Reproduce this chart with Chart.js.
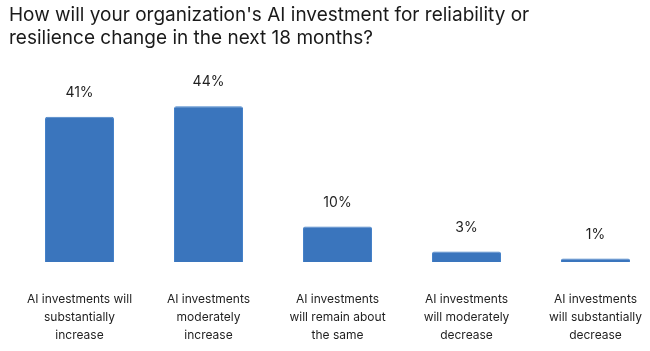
<!DOCTYPE html>
<html>
<head>
<meta charset="utf-8">
<script src="https://cdn.jsdelivr.net/npm/chart.js@4/dist/chart.umd.min.js"></script>
<style>
  html, body { margin: 0; padding: 0; background: #fff; overflow: hidden; }
  canvas { display: block; }
</style>
</head>
<body>
<canvas id="chart" width="663" height="351"></canvas>
<script>
const titleLines = [
    "How will your organization's AI investment for reliability or",
    "resilience change in the next 18 months?"
]
const categories = [
    ["AI investments will", "substantially", "increase"],
    ["AI investments", "moderately", "increase"],
    ["AI investments", "will remain about", "the same"],
    ["AI investments", "will moderately", "decrease"],
    ["AI investments", "will substantially", "decrease"]
]
const shares = [41, 44, 10, 3, 1]

// percent labels above the bars
const valueLabels = {
    id: 'valueLabels',
    afterDatasetsDraw(chart) {
        const ctx = chart.ctx
        const meta = chart.getDatasetMeta(0)
        ctx.save()
        ctx.font = '14px Inter'
        ctx.fillStyle = '#1f1f1f'
        ctx.textAlign = 'center'
        ctx.textBaseline = 'middle'
        meta.data.forEach((bar, i) => {
            ctx.fillText(shares[i] + '%', bar.x, bar.y - 24)
        })
        ctx.restore()
    }
}

Chart.defaults.font.family = 'Inter'
Chart.defaults.color = '#1f1f1f'

new Chart(document.getElementById('chart'), {
    type: 'bar',
    data: {
        labels: categories,
        datasets: [{
            data: shares,
            backgroundColor: '#3a75bd',
            borderColor: '#4682c8',
            borderWidth: 1,
            borderRadius: { topLeft: 2, topRight: 2 },
            borderSkipped: 'bottom',
            categoryPercentage: 1,
            barPercentage: 0.535
        }]
    },
    options: {
        responsive: false,
        animation: false,
        layout: { padding: { left: 9, right: 3, top: 0, bottom: 7 } },
        plugins: {
            legend: { display: false },
            tooltip: { enabled: false },
            title: {
                display: true,
                text: titleLines,
                align: 'start',
                color: '#1a1a1a',
                font: { size: 19, weight: 'normal', lineHeight: 1.21 },
                padding: { top: 4, bottom: 35 }
            }
        },
        scales: {
            x: {
                grid: { display: false, drawTicks: false },
                border: { display: false },
                ticks: {
                    padding: 28,
                    maxRotation: 0,
                    autoSkip: false,
                    color: '#1f1f1f',
                    font: { size: 12, lineHeight: 1.5 }
                },
                afterFit(scale) {
                    scale.height = 82
                    scale.paddingLeft = 0
                    scale.paddingRight = 0
                }
            },
            y: {
                min: 0,
                max: 50,
                grid: { display: false, drawTicks: false },
                border: { display: false },
                ticks: { display: false },
                afterFit(scale) { scale.width = 6 }
            }
        }
    },
    plugins: [valueLabels]
})
</script>
</body>
</html>
